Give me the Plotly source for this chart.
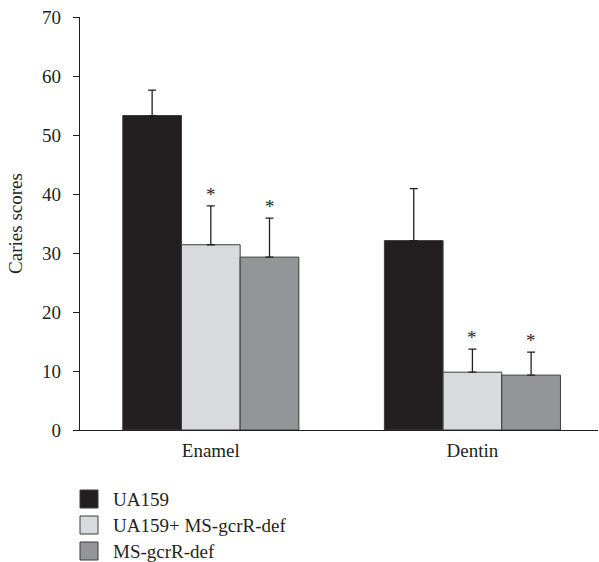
import plotly.graph_objects as go

# Caries scores by tissue and strain (mean with upper SD)
categories = ["Enamel", "Dentin"]
series_names = ["UA159", "UA159+ MS-gcrR-def", "MS-gcrR-def"]
means = {
    "UA159": [53.3, 32.1],
    "UA159+ MS-gcrR-def": [31.4, 9.8],
    "MS-gcrR-def": [29.3, 9.3],
}
errors = {
    "UA159": [4.3, 8.8],
    "UA159+ MS-gcrR-def": [6.6, 3.9],
    "MS-gcrR-def": [6.6, 3.9],
}
significant = {
    "UA159": [False, False],
    "UA159+ MS-gcrR-def": [True, True],
    "MS-gcrR-def": [True, True],
}
colors = {
    "UA159": "#231f20",
    "UA159+ MS-gcrR-def": "#d9dadc",
    "MS-gcrR-def": "#939598",
}
y_ticks = [0, 10, 20, 30, 40, 50, 60, 70]

FONT = "Liberation Serif"
INK = "#231f20"
AXIS_SIZE = 19
LEGEND_SIZE = 19
bargap = 0.327
bar_w = (1 - bargap) / len(series_names)

fig = go.Figure()
for name in series_names:
    fig.add_trace(go.Bar(
        name=name,
        x=categories,
        y=means[name],
        marker=dict(color=colors[name], line=dict(color="#3c3c3c", width=1)),
        error_y=dict(type="data", array=errors[name], arrayminus=[0, 0],
                     symmetric=False, color=INK, thickness=1.3, width=4),
        showlegend=False,
    ))

# significance stars above the error bars
for i, name in enumerate(series_names):
    offset = (i - 1) * bar_w
    for j, cat in enumerate(categories):
        if significant[name][j]:
            fig.add_annotation(
                x=j + offset, y=means[name][j] + errors[name][j],
                xref="x", yref="y", text="*", showarrow=False,
                yanchor="bottom", yshift=-1,
                font=dict(family=FONT, size=19, color=INK),
            )

# legend drawn below the plot (plot area: x 80..598, y 17..430 px)
legend_top = 490
row_h = 26
for i, name in enumerate(series_names):
    y0 = legend_top + i * row_h
    fig.add_shape(type="rect", xref="paper", yref="paper",
                  x0=0, x1=18 / 518,
                  y0=(430 - y0) / 413, y1=(430 - y0 - 18) / 413,
                  fillcolor=colors[name], line=dict(color="#3c3c3c", width=1))
    fig.add_annotation(xref="paper", yref="paper",
                       x=(111 - 80) / 518, y=(430 - y0 - 9) / 413,
                       text=name, showarrow=False, xanchor="left", yanchor="middle",
                       font=dict(family=FONT, size=LEGEND_SIZE, color=INK))

fig.update_layout(
    width=599, height=562,
    margin=dict(l=80, r=1, t=17, b=132),
    paper_bgcolor="white", plot_bgcolor="white",
    barmode="group", bargap=bargap, bargroupgap=0,
    font=dict(family=FONT, size=AXIS_SIZE, color=INK),
    xaxis=dict(range=[-0.5, 1.48], showline=True, linecolor=INK, linewidth=1.3,
               ticks="", showgrid=False, zeroline=False, ticklabelstandoff=3,
               tickfont=dict(family=FONT, size=AXIS_SIZE, color=INK)),
    yaxis=dict(range=[0, 70], tickvals=y_ticks, showline=True, linecolor=INK,
               linewidth=1.3, ticks="outside", ticklen=6, tickcolor=INK,
               tickwidth=1.3, showgrid=False, zeroline=False, ticklabelstandoff=8,
               title=dict(text="Caries scores", standoff=14,
                          font=dict(family=FONT, size=AXIS_SIZE, color=INK)),
               tickfont=dict(family=FONT, size=AXIS_SIZE, color=INK)),
)

fig.write_html("out.html")
